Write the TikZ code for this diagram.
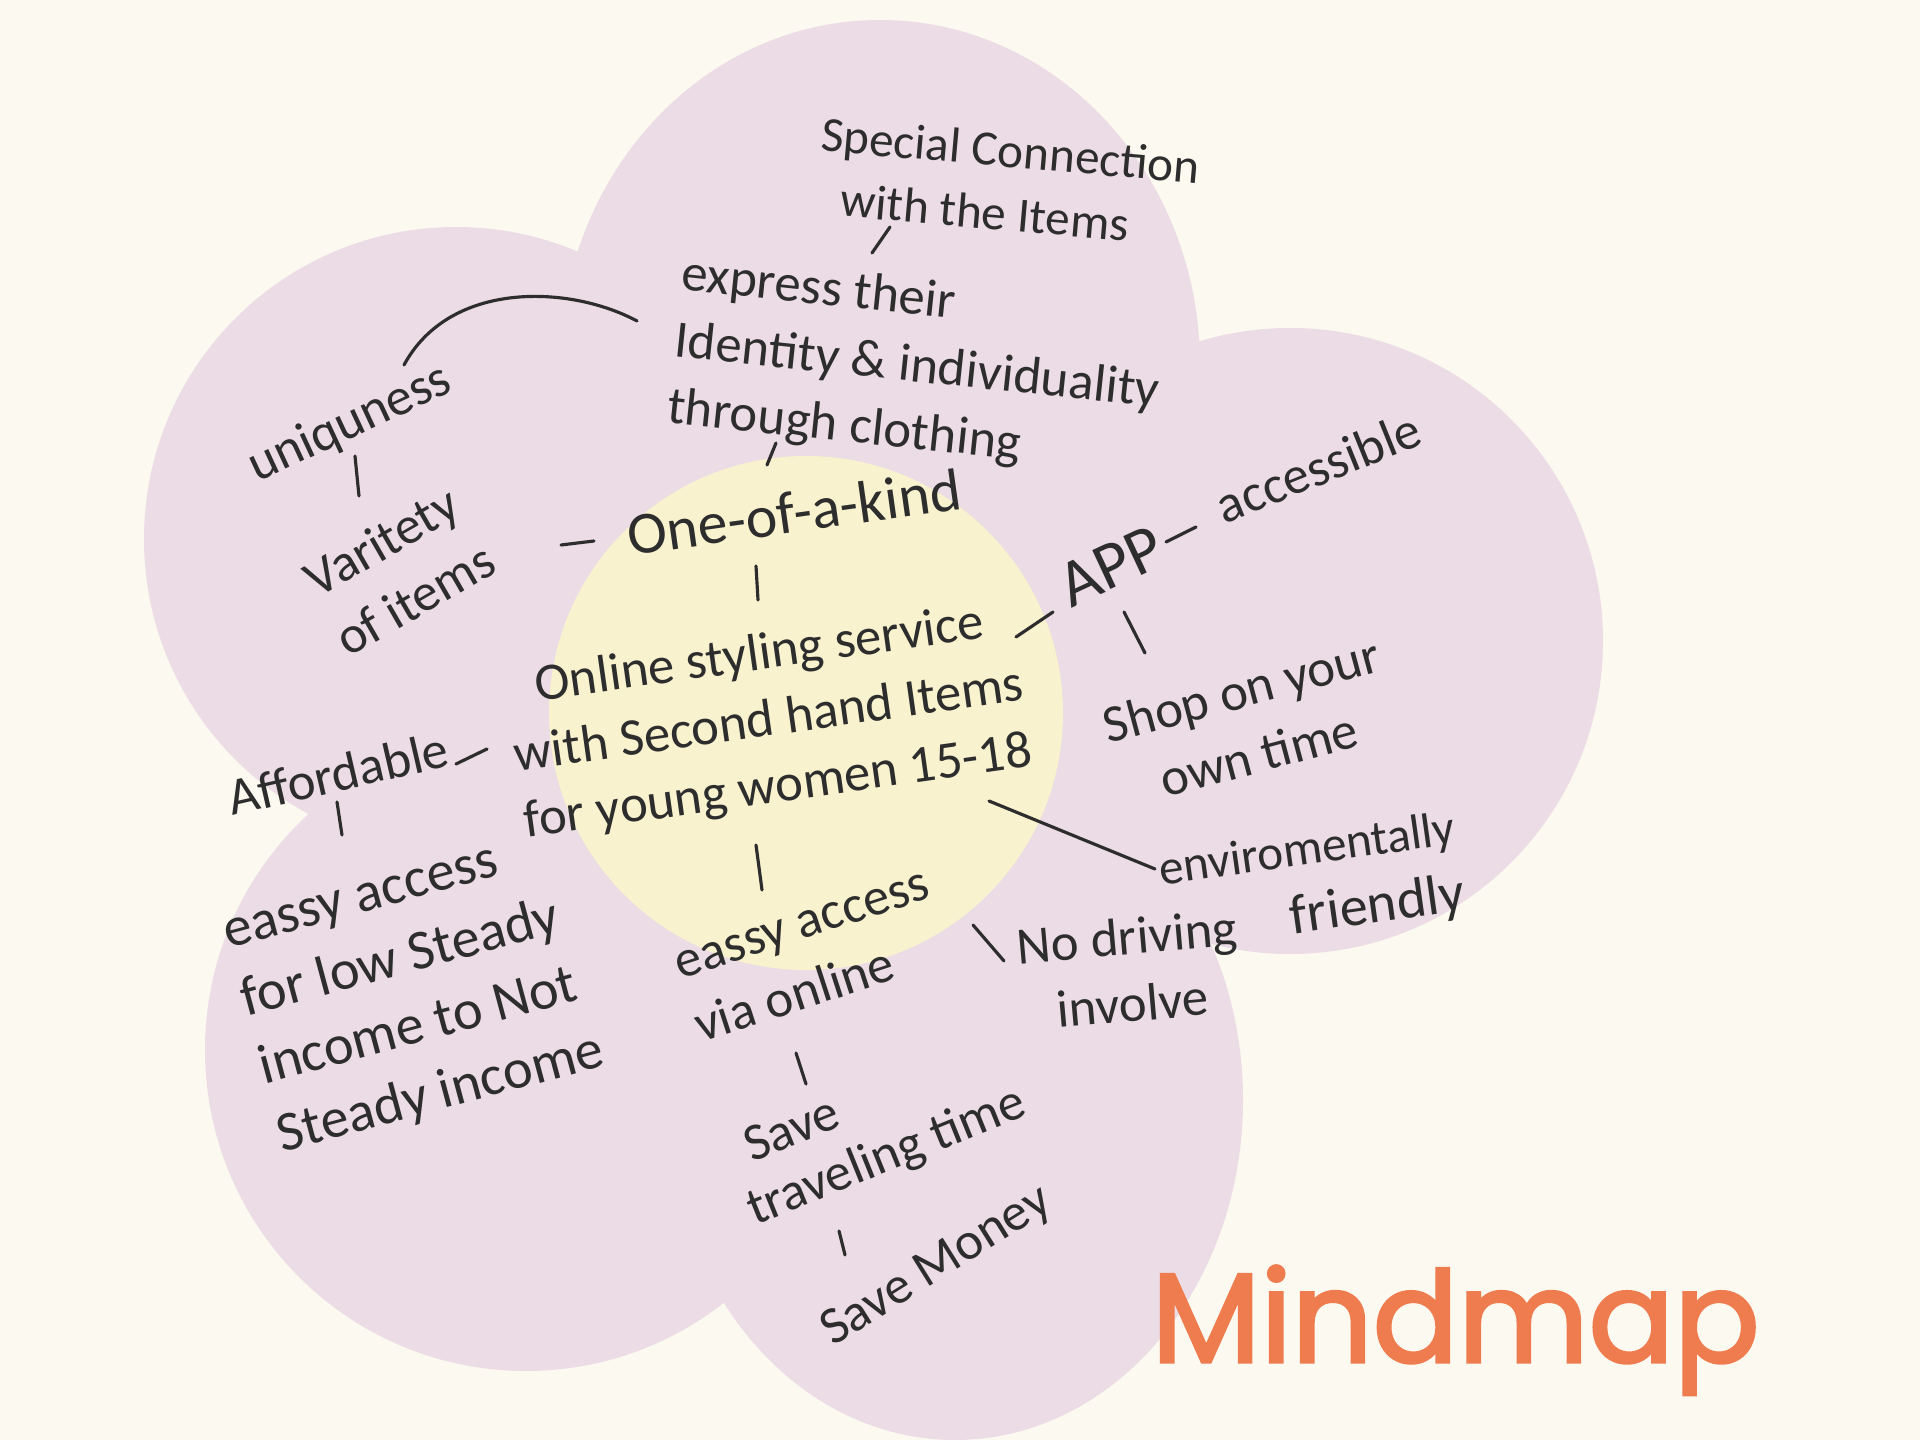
\documentclass[tikz,border=0pt]{standalone}
\usepackage{fontspec}
\setmainfont{Carlito}
\newfontfamily\titlefont{Poppins}[FakeBold=2.5]
\usepackage{xcolor}
\usetikzlibrary{arrows.meta,shapes}
\definecolor{cream}{RGB}{251,249,240}
\definecolor{petal}{RGB}{236,220,229}
\definecolor{corefill}{RGB}{248,242,206}
\definecolor{ink}{RGB}{45,45,45}
\definecolor{titlecol}{RGB}{238,124,79}

\begin{document}
\begin{tikzpicture}[note/.style={text=ink,font=\fontsize{15}{19}\selectfont,inner sep=1pt},
link/.style={ink,line width=0.9pt,line cap=round}]
\fill[cream](0,0)rectangle(19.2,14.4);
\useasboundingbox(0,0)rectangle(19.2,14.4);
\fill[petal](8.80,10.75)ellipse(3.20 and 3.45)
(4.56,9.01)circle(3.12)
(5.26,3.90)circle(3.21)
(9.55,3.40)ellipse(2.88 and 3.40)
(12.90,7.99)circle(3.13);
\fill[corefill](8.06,7.27)circle(2.57);
\node[note,rotate=-5,align=left,font=\fontsize{14}{18}\selectfont](special)at(10.08,12.58){Special Connection\\\hspace{0.5em}with the Items};
\node[note,rotate=-6,align=left](express)at(9.17,10.72){express their\\Identity \& individuality\\through clothing};
\node[note,rotate=25](unique)at(3.50,10.16){uniquness};
\node[note,rotate=30,align=center](variety)at(3.98,8.70){Varitety\\of items};
\node[note,rotate=8,font=\fontsize{17}{20}\selectfont](oneof)at(7.94,9.28){One-of-a-kind};
\node[note,rotate=8,align=center](core)at(7.69,7.18){Online styling service\\with Second hand Items\\for young women 15-18};
\node[note,rotate=18,align=left](access)at(8.13,4.82){eassy access\\via online};
\node[note,rotate=5,align=center](drive)at(11.30,4.70){No driving\\involve};
\node[note,rotate=25,font=\fontsize{19}{22}\selectfont](app)at(11.11,8.74){APP};
\node[note,rotate=22](accessible)at(13.18,9.73){accessible};
\node[note,rotate=15,align=center](shop)at(12.50,7.18){Shop on your\\own time};
\node[note,rotate=8,align=right,font=\fontsize{14}{19}\selectfont](enviro)at(13.12,5.55){enviromentally\hspace{0.5em}\\{\fontsize{16}{19}\selectfont friendly}};
\node[note,rotate=13](afford)at(3.38,6.67){Affordable};
\node[note,rotate=15,align=left,font=\fontsize{16}{20}\selectfont](income)at(4.15,4.42){eassy access\\for low Steady\\income to Not\\Steady income};
\node[note,rotate=22,align=left,font=\fontsize{15}{17}\selectfont](save)at(8.76,3.09){\hspace{0.4em}Save\\traveling time};
\node[note,rotate=32](money)at(9.37,1.73){Save Money};
\node[text=titlecol,font=\titlefont\fontsize{36}{40}\selectfont,anchor=base west,inner sep=0pt](mindmap)at(11.51,0.78){Mindmap};
\draw[link]([shift={(-1.18,-0.45)}]special.center)--([shift={(-0.45,1.15)}]express.center);
\draw[link]([shift={(-1.41,-0.75)}]express.center)--([shift={(-0.02,2.57)}]core.center);
\draw[link]([shift={(-2.80,0.47)}]express.center)..controls+(-0.67,0.36)and+(0.46,0.85)..([shift={(0.54,0.59)}]unique.center);
\draw[link]([shift={(0.05,-0.32)}]unique.center)--([shift={(-0.39,0.74)}]variety.center);
\draw[link]([shift={(1.63,0.25)}]variety.center)--([shift={(-2.00,-0.29)}]oneof.center);
\draw[link]([shift={(-0.38,-0.54)}]oneof.center)--([shift={(-0.11,1.22)}]core.center);
\draw[link]([shift={(-0.13,-1.23)}]core.center)--([shift={(-0.51,0.68)}]access.center);
\draw[link]([shift={(1.60,0.33)}]access.center)--([shift={(-1.26,0.09)}]drive.center);
\draw[link]([shift={(2.47,0.85)}]core.center)--([shift={(-0.58,-0.46)}]app.center);
\draw[link]([shift={(0.55,0.24)}]app.center)--([shift={(-1.22,-0.60)}]accessible.center);
\draw[link]([shift={(0.13,-0.46)}]app.center)--([shift={(-1.05,0.69)}]shop.center);
\draw[link]([shift={(2.20,-0.79)}]core.center)--([shift={(-1.57,0.16)}]enviro.center);
\draw[link]([shift={(1.18,0.09)}]afford.center)--([shift={(-2.82,-0.27)}]core.center);
\draw[link]([shift={(-0.01,-0.29)}]afford.center)--([shift={(-0.73,1.63)}]income.center);
\draw[link]([shift={(-0.17,-0.95)}]access.center)--([shift={(-0.70,0.47)}]save.center);
\draw[link]([shift={(-0.37,-1.00)}]save.center)--([shift={(-0.92,0.12)}]money.center);
\end{tikzpicture}
\end{document}
